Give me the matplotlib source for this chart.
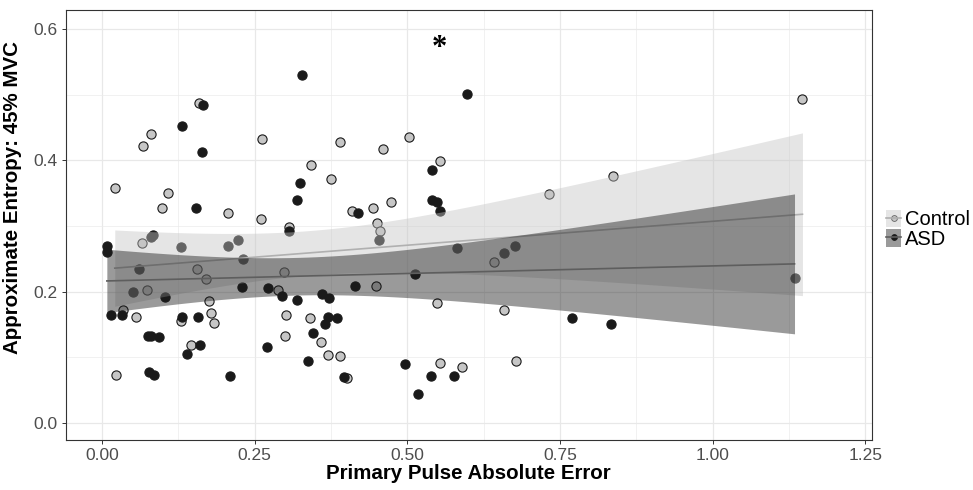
import numpy as np
import matplotlib
matplotlib.use("Agg")
import matplotlib.pyplot as plt
from matplotlib.patches import Patch, Rectangle
from matplotlib.lines import Line2D
from matplotlib.legend_handler import HandlerTuple

plt.rcParams['font.family'] = ['Liberation Sans', 'DejaVu Sans']

# ---------------- data ----------------
control_x = [0.159, 0.080, 0.067, 0.262, 0.390, 0.342, 0.375, 0.021, 0.108, 0.099,
             0.206, 0.260, 0.307, 0.065, 0.156, 0.171, 0.074, 0.298, 0.289, 0.034,
             0.055, 0.129, 0.175, 0.178, 0.184, 0.302, 0.341, 0.145, 0.300, 0.359,
             0.370, 0.389, 0.023, 0.502, 0.460, 0.553, 0.409, 0.443, 0.474, 0.451,
             0.455, 0.642, 0.448, 0.549, 0.658, 0.553, 0.590, 0.401, 0.678, 1.147,
             0.732, 0.837]
control_y = [0.487, 0.440, 0.422, 0.432, 0.428, 0.393, 0.371, 0.357, 0.350, 0.327,
             0.319, 0.311, 0.298, 0.274, 0.234, 0.219, 0.202, 0.230, 0.202, 0.172,
             0.161, 0.156, 0.185, 0.168, 0.152, 0.165, 0.160, 0.119, 0.132, 0.124,
             0.104, 0.102, 0.073, 0.435, 0.417, 0.399, 0.322, 0.327, 0.337, 0.305,
             0.293, 0.245, 0.209, 0.182, 0.172, 0.091, 0.085, 0.068, 0.094, 0.493,
             0.348, 0.376]

asd_x = [0.166, 0.131, 0.163, 0.325, 0.320, 0.154, 0.306, 0.009, 0.008, 0.081,
         0.084, 0.130, 0.207, 0.223, 0.231, 0.060, 0.051, 0.104, 0.230, 0.272,
         0.294, 0.319, 0.361, 0.371, 0.014, 0.033, 0.131, 0.157, 0.370, 0.385,
         0.366, 0.075, 0.081, 0.093, 0.160, 0.139, 0.346, 0.271, 0.338, 0.077,
         0.086, 0.210, 0.328, 0.597, 0.540, 0.540, 0.549, 0.554, 0.419, 0.454,
         0.582, 0.659, 0.676, 0.512, 0.414, 0.497, 0.539, 0.577, 0.397, 0.517,
         0.769, 0.834, 1.134]
asd_y = [0.484, 0.452, 0.413, 0.365, 0.339, 0.327, 0.293, 0.270, 0.260, 0.283,
         0.286, 0.268, 0.269, 0.278, 0.249, 0.234, 0.200, 0.192, 0.207, 0.205,
         0.193, 0.187, 0.196, 0.191, 0.165, 0.165, 0.162, 0.161, 0.161, 0.160,
         0.150, 0.133, 0.132, 0.131, 0.118, 0.105, 0.137, 0.115, 0.095, 0.077,
         0.073, 0.072, 0.529, 0.501, 0.385, 0.340, 0.337, 0.322, 0.320, 0.278,
         0.266, 0.259, 0.269, 0.227, 0.208, 0.090, 0.072, 0.072, 0.070, 0.044,
         0.160, 0.150, 0.221]

groups = ["Control", "ASD"]
x_ticks = [0.00, 0.25, 0.50, 0.75, 1.00, 1.25]
x_tick_labels = ["0.00", "0.25", "0.50", "0.75", "1.00", "1.25"]
y_ticks = [0.0, 0.2, 0.4, 0.6]
y_tick_labels = ["0.0", "0.2", "0.4", "0.6"]
x_title = "Primary Pulse Absolute Error"
y_title = "Approximate Entropy: 45% MVC"
annotation = "*"
annot_x, annot_y = 0.552, 0.570
mask_box = (0.508, 0.545, 0.943, 0.618)   # x0, y0, x1, y1 of blank label box

# ---------------- styles ----------------
point_fill = {"Control": "#c6c6c6", "ASD": "#1a1a1a"}
point_edge = {"Control": "#1a1a1a", "ASD": "#1a1a1a"}
band_fill = {"Control": "#c4c4c4", "ASD": "#1a1a1a"}
band_alpha = 0.44
line_col = {"Control": "#b0b0b0", "ASD": "#5e5e5e"}


def t975(df):
    z = 1.959964
    g1 = (z**3 + z) / 4
    g2 = (5*z**5 + 16*z**3 + 3*z) / 96
    g3 = (3*z**7 + 19*z**5 + 17*z**3 - 15*z) / 384
    return z + g1/df + g2/df**2 + g3/df**3


def lm_band(x, y, n_out=80):
    x = np.asarray(x, float)
    y = np.asarray(y, float)
    n = len(x)
    b1, b0 = np.polyfit(x, y, 1)
    res = y - (b0 + b1*x)
    s2 = np.sum(res**2) / (n - 2)
    xm = x.mean()
    sxx = np.sum((x - xm)**2)
    xs = np.linspace(x.min(), x.max(), n_out)
    fit = b0 + b1*xs
    se = np.sqrt(s2 * (1.0/n + (xs - xm)**2 / sxx))
    t = t975(n - 2)
    return xs, fit, fit - t*se, fit + t*se


fig = plt.figure(figsize=(9.73, 4.90), dpi=100)
ax = fig.add_axes([0.0675, 0.1020, 0.8284, 0.8786])

ax.set_xlim(-0.0594, 1.2604)
ax.set_ylim(-0.0259, 0.6294)

# grid
ax.set_xticks(x_ticks)
ax.set_xticklabels(x_tick_labels)
ax.set_yticks(y_ticks)
ax.set_yticklabels(y_tick_labels)
ax.set_xticks([0.125, 0.375, 0.625, 0.875, 1.125], minor=True)
ax.set_yticks([0.1, 0.3, 0.5], minor=True)
ax.grid(True, which='major', color='#e8e8e8', lw=0.9, zorder=0)
ax.grid(True, which='minor', color='#ebebeb', lw=0.5, zorder=0)
ax.set_axisbelow(True)
ax.tick_params(which='minor', length=0)
ax.tick_params(which='major', length=3.2, width=0.7, color='#333333',
               labelsize=12.5, labelcolor='#4d4d4d', pad=2.5)
for s in ax.spines.values():
    s.set_color('#333333')
    s.set_linewidth(0.8)

# blank label box hiding grid
ax.add_patch(Rectangle((mask_box[0], mask_box[1]), mask_box[2]-mask_box[0],
                       mask_box[3]-mask_box[1], facecolor='white',
                       edgecolor='none', zorder=0.5))

data = {"Control": (control_x, control_y), "ASD": (asd_x, asd_y)}

# points
for g in groups:
    xx, yy = data[g]
    ax.scatter(xx, yy, s=44, c=point_fill[g], edgecolors=point_edge[g],
               linewidths=0.8, zorder=2)

# smooths
z = 3
for g in groups:
    xx, yy = data[g]
    xs, fit, lo, hi = lm_band(xx, yy)
    ax.fill_between(xs, lo, hi, color=band_fill[g], alpha=band_alpha,
                    lw=0, zorder=z)
    ax.plot(xs, fit, color=line_col[g], lw=1.2, zorder=z + 0.1)
    z += 0.2

ax.text(annot_x, annot_y, annotation, fontsize=22, family='Liberation Serif',
        fontweight='bold', ha='center', va='center', zorder=5)

ax.set_xlabel(x_title, fontsize=14.8, fontweight='bold', labelpad=1)
ax.set_ylabel(y_title, fontsize=14.8, fontweight='bold')
ax.yaxis.set_label_coords(-0.0546, 0.563)

# legend
handles = []
for g in groups:
    pt = Line2D([], [], lw=0, marker='o', markersize=4.2,
                markerfacecolor=point_fill[g], markeredgecolor=point_edge[g],
                markeredgewidth=0.6)
    patch = Patch(facecolor=band_fill[g], alpha=band_alpha, edgecolor='none')
    ln = Line2D([], [], color=line_col[g], lw=1.2)
    handles.append((pt, patch, ln))
fig.legend(handles, groups, handler_map={tuple: HandlerTuple(ndivide=1, pad=0)},
           loc='upper left', bbox_to_anchor=(886/973, 1 - 210/490),
           frameon=False, fontsize=14.5, handlelength=0.75, handleheight=0.93,
           handletextpad=0.2, labelspacing=0.0, borderpad=0, borderaxespad=0)

fig.savefig("out.png", dpi=100)
